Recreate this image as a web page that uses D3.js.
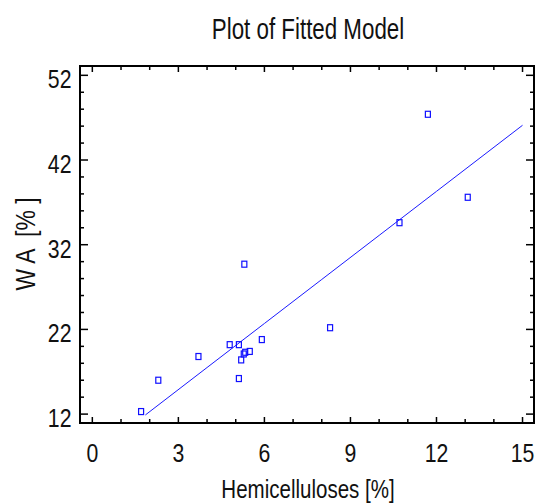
<!DOCTYPE html>
<html>
<head>
<meta charset="utf-8">
<script src="https://cdn.jsdelivr.net/npm/d3@7"></script>
<style>
  body { margin: 0; background: #fff; }
  text { font-family: "Liberation Sans", Arial, sans-serif; fill: #111; white-space: pre; }
</style>
</head>
<body>
<script>
const hemi = [1.70, 2.30, 3.70, 4.79, 5.11, 5.11, 5.19, 5.30, 5.28, 5.33, 5.49, 5.91, 8.29, 10.71, 11.70, 13.09];
const wa   = [12.3, 16.0, 18.8, 20.2, 20.2, 16.2, 18.4, 29.7, 19.1, 19.3, 19.4, 20.8, 22.2, 34.6, 47.4, 37.6];

// fitted model curve
const fitX = [1.85, 4.0, 6.0, 8.0, 10.0, 12.0, 15.0];
const fitY = [11.9, 17.5, 22.7, 27.9, 33.1, 38.3, 46.1];

const xTicks = [0, 3, 6, 9, 12, 15];
const yTicks = [12, 22, 32, 42, 52];

const W = 537, H = 504;
const m = {left: 80, right: 3, top: 66, bottom: 81};

const svg = d3.select("body").append("svg")
    .attr("width", W).attr("height", H);

// axis domains run a bit past the outer ticks, like the original frame
const x = d3.scaleLinear().domain([-0.43, 15.4]).range([m.left, W - m.right]);
const y = d3.scaleLinear().domain([10.95, 53.1]).range([H - m.bottom, m.top]);

const x0 = x.range()[0], x1 = x.range()[1];
const y0 = y.range()[0], y1 = y.range()[1];

// narrow type: squeeze the glyphs sideways
function narrowText(g, tx, ty, str, size, sx, anchor, rot) {
    return g.append("text")
        .attr("transform", `translate(${tx},${ty})` + (rot ? ` rotate(${rot})` : "") + ` scale(${sx},1)`)
        .attr("text-anchor", anchor)
        .style("font-size", size + "px")
        .text(str);
}

// tick marks, pointing inward on all four sides
const xMinor = d3.range(0, 16, 1);
const yMinor = d3.range(12, 53, 2);

const ticks = svg.append("g").attr("stroke", "#000").attr("stroke-width", 1.5);
xMinor.forEach(v => {
    const len = v % 3 === 0 ? 6 : 4;
    ticks.append("line").attr("x1", x(v)).attr("x2", x(v)).attr("y1", y0).attr("y2", y0 - len);
    ticks.append("line").attr("x1", x(v)).attr("x2", x(v)).attr("y1", y1).attr("y2", y1 + len);
});
yMinor.forEach(v => {
    const len = (v - 12) % 10 === 0 ? 8 : 4;
    ticks.append("line").attr("x1", x0).attr("x2", x0 + len).attr("y1", y(v)).attr("y2", y(v));
    ticks.append("line").attr("x1", x1).attr("x2", x1 - len).attr("y1", y(v)).attr("y2", y(v));
});

svg.append("rect")
    .attr("x", x0).attr("y", y1)
    .attr("width", x1 - x0).attr("height", y0 - y1)
    .attr("fill", "none").attr("stroke", "#000").attr("stroke-width", 2);

// tick labels
const labels = svg.append("g");
xTicks.forEach(d => narrowText(labels, x(d), 461.5, d, 25, 0.85, "middle"));
yTicks.forEach(d => narrowText(labels, 71.5, y(d) + 13, d, 25, 0.85, "end"));

// titles
narrowText(svg, 308, 38.5, "Plot of Fitted Model", 29, 0.77, "middle");
narrowText(svg, 308, 498, "Hemicelluloses [%]", 26, 0.79, "middle");
narrowText(svg, 35, 244, "W A  [% ]", 27, 0.85, "middle", -90);

// fitted line
const line = d3.line().x(d => x(d[0])).y(d => y(d[1]));
svg.append("path")
    .datum(d3.zip(fitX, fitY))
    .attr("d", line)
    .attr("fill", "none")
    .attr("stroke", "#1a1aff")
    .attr("stroke-width", 1);

// observed points as small open squares
svg.append("g").selectAll("rect").data(d3.zip(hemi, wa)).join("rect")
    .attr("x", d => x(d[0]) - 2.5)
    .attr("y", d => y(d[1]) - 3)
    .attr("width", 5).attr("height", 6)
    .attr("fill", "none")
    .attr("stroke", "#1010ff")
    .attr("stroke-width", 1.2);
</script>
</body>
</html>
